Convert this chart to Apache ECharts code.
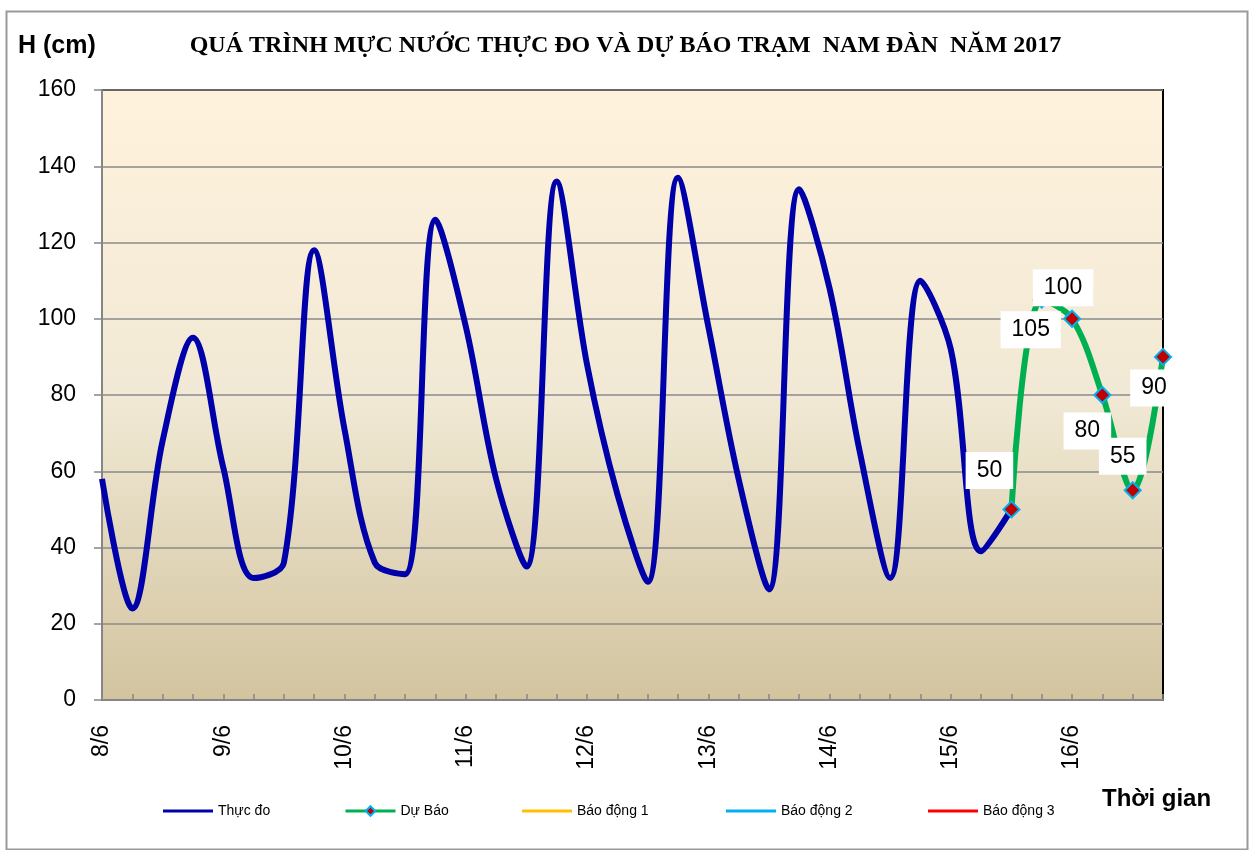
<!DOCTYPE html>
<html>
<head>
<meta charset="utf-8">
<script src="https://cdn.jsdelivr.net/npm/echarts@6/dist/echarts.min.js"></script>
<style>
  html, body { margin: 0; padding: 0; background: #ffffff; }
  #chart { width: 1251px; height: 850px; }
</style>
</head>
<body>
<div id="chart"></div>
<script>
// ---- Data ----
const dayLabels = ['8/6', '9/6', '10/6', '11/6', '12/6', '13/6', '14/6', '15/6', '16/6'];
const hourLabels = ['00h', '06h', '12h', '18h'];
// Observed water level (cm), every 6 hours from 8/6 00h
const observed = [58, 24, 68, 95, 61, 32, 36, 118, 71, 36, 33, 126, 98, 58, 35, 136, 88, 54, 31, 137, 98, 58, 29, 134, 108, 65, 32, 110, 92, 39, 50];
// Forecast (cm), starting at the last observed point
const forecastStartIndex = 30;
const forecast = [50, 105, 100, 80, 55, 90];
const seriesNames = ['Thực đo', 'Dự Báo', 'Báo động 1', 'Báo động 2', 'Báo động 3'];

// ---- Build categories ----
const categories = [];
dayLabels.forEach(d => hourLabels.forEach(h => categories.push(d + ' ' + h)));
const nPoints = forecastStartIndex + forecast.length;
categories.length = nPoints;

const observedData = observed.slice();
const forecastLabelOffsets = [[-22, -39], [-11, 30], [-9, -31], [-15, 36], [-10, -34], [-9, 31]];
const forecastData = [];
for (let i = 0; i < nPoints; i++) {
  const k = i - forecastStartIndex;
  if (k < 0) { forecastData.push(null); continue; }
  forecastData.push({ value: forecast[k], label: { offset: forecastLabelOffsets[k] } });
}

const chart = echarts.init(document.getElementById('chart'), null, { renderer: 'canvas' });
const gridLeft = 102, gridRight = 88, gridTop = 90, gridBottom = 150;

const legendLefts = [163, 344, 522, 726, 928];
const legends = seriesNames.map((name, i) => {
  const isForecast = i === 1;
  return {
    data: [isForecast ? { name: name } : { name: name, icon: 'rect' }],
    left: legendLefts[i],
    top: 803,
    padding: 0,
    itemWidth: 50,
    itemHeight: isForecast ? 12 : 3,
    itemGap: 0,
    lineStyle: { width: 3 },
    textStyle: { fontFamily: 'Liberation Sans, Arial', fontSize: 14, color: '#000', lineHeight: 16 },
    selectedMode: false
  };
});

const option = {
  animation: false,
  backgroundColor: '#ffffff',
  title: {
    text: 'QUÁ TRÌNH MỰC NƯỚC THỰC ĐO VÀ DỰ BÁO TRẠM  NAM ĐÀN  NĂM 2017',
    left: 'center',
    top: 29,
    textStyle: { fontFamily: 'Liberation Serif, Times New Roman', fontWeight: 'bold', fontSize: 24, color: '#000' }
  },
  legend: legends,
  graphic: [
    { type: 'rect', left: 4, top: 9, shape: { width: 1241, height: 838 }, style: { fill: 'none', stroke: '#9a9a9a', lineWidth: 2 }, silent: true },
    { type: 'text', left: 18, top: 34, style: { text: 'H (cm)', font: 'bold 25px Liberation Sans, Arial', fill: '#000' } },
    { type: 'text', left: 1102, top: 787, style: { text: 'Thời gian', font: 'bold 24px Liberation Sans, Arial', fill: '#000' } }
  ],
  grid: {
    left: gridLeft, right: gridRight, top: gridTop, bottom: gridBottom,
    show: true,
    borderColor: '#000',
    borderWidth: 2,
    backgroundColor: {
      type: 'linear', x: 0, y: 0, x2: 0, y2: 1,
      colorStops: [
        { offset: 0, color: '#fff2dc' },
        { offset: 0.5, color: '#f1e9d5' },
        { offset: 1, color: '#d2c49f' }
      ]
    }
  },
  xAxis: {
    type: 'category',
    data: categories,
    boundaryGap: false,
    axisLine: { lineStyle: { color: '#868686', width: 2 } },
    axisTick: { show: true, inside: true, length: 6, interval: 0, lineStyle: { color: '#868686', width: 1.5 } },
    axisLabel: {
      interval: 3,
      rotate: 90,
      margin: 25,
      fontFamily: 'Liberation Sans, Arial',
      fontSize: 23,
      color: '#000',
      formatter: v => v.split(' ')[0]
    },
    splitLine: { show: false }
  },
  yAxis: {
    type: 'value',
    min: 0, max: 160, interval: 20,
    axisLine: { show: true, lineStyle: { color: '#868686', width: 2 } },
    axisTick: { show: true, inside: false, length: 8, lineStyle: { color: '#868686', width: 1.5 } },
    axisLabel: { margin: 26, fontFamily: 'Liberation Sans, Arial', fontSize: 23, color: '#000' },
    splitLine: { show: true, lineStyle: { color: '#8a8a8a', width: 1.5 } }
  },
  series: [
    {
      name: seriesNames[0],
      type: 'line',
      data: observedData,
      smooth: 0.35,
      symbol: 'none',
      lineStyle: { color: '#0000AA', width: 6 },
      itemStyle: { color: '#0000AA' },
      z: 3
    },
    {
      name: seriesNames[1],
      type: 'line',
      data: forecastData,
      smooth: 0.35,
      symbol: 'diamond',
      symbolSize: 16,
      showAllSymbol: true,
      connectNulls: false,
      lineStyle: { color: '#00B050', width: 6 },
      itemStyle: { color: '#C00000', borderColor: '#00B0F0', borderWidth: 2 },
      label: {
        show: true,
        position: 'inside',
        fontFamily: 'Liberation Sans, Arial',
        fontSize: 23,
        color: '#000',
        backgroundColor: '#ffffff',
        padding: [7, 11]
      },
      z: 4
    },
    { name: seriesNames[2], type: 'line', data: [], lineStyle: { color: '#FFC000', width: 3 }, itemStyle: { color: '#FFC000' }, symbol: 'none' },
    { name: seriesNames[3], type: 'line', data: [], lineStyle: { color: '#00B0F0', width: 3 }, itemStyle: { color: '#00B0F0' }, symbol: 'none' },
    { name: seriesNames[4], type: 'line', data: [], lineStyle: { color: '#FF0000', width: 3 }, itemStyle: { color: '#FF0000' }, symbol: 'none' }
  ]
};
chart.setOption(option);
</script>
</body>
</html>
